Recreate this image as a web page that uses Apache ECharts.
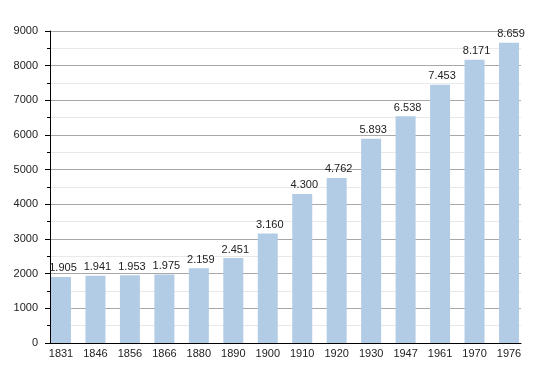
<!DOCTYPE html>
<html><head><meta charset="utf-8">
<script src="https://cdn.jsdelivr.net/npm/echarts@6/dist/echarts.min.js"></script>
<style>html,body{margin:0;padding:0;background:#fff}#c{width:550px;height:373px}</style>
</head><body><div id="c"></div>
<script>
const years = ['1831','1846','1856','1866','1880','1890','1900','1910','1920','1930','1947','1961','1970','1976'];
const population = [1905,1941,1953,1975,2159,2451,3160,4300,4762,5893,6538,7453,8171,8659];
const yTicks = {min: 0, max: 9000, interval: 1000};

const font = 'Liberation Sans, Arial, sans-serif';
const chart = echarts.init(document.getElementById('c'), null, {renderer: 'canvas'});
chart.setOption({
  animation: false,
  grid: [
    {left: 50, right: 29, top: 31, bottom: 30},
    {left: 61, right: 41, top: 31, bottom: 30}
  ],
  xAxis: [
    {gridIndex: 0, type: 'value', min: 0, max: 1,
     axisLine: {show: true, onZero: false, lineStyle: {color: '#000', width: 1}},
     axisTick: {show: false}, axisLabel: {show: false}, splitLine: {show: false}},
    {gridIndex: 1, type: 'category', data: years, boundaryGap: false,
     axisLine: {show: false}, axisTick: {show: false},
     axisLabel: {color: '#222', fontSize: 11, fontFamily: font, margin: 5, interval: 0}}
  ],
  yAxis: [
    {gridIndex: 0, type: 'value', min: yTicks.min, max: yTicks.max, interval: yTicks.interval,
     axisLine: {show: true, lineStyle: {color: '#000', width: 1}},
     axisTick: {show: true, length: 5, lineStyle: {color: '#000'}},
     minorTick: {show: true, splitNumber: 2, length: 3, lineStyle: {color: '#000'}},
     axisLabel: {color: '#222', fontSize: 11, fontFamily: font, margin: 12, formatter: v => String(v)},
     splitLine: {show: true, lineStyle: {color: '#a8a8a8', width: 1}},
     minorSplitLine: {show: true, lineStyle: {color: '#e8e8e8', width: 1}}},
    {gridIndex: 1, type: 'value', min: yTicks.min, max: yTicks.max, interval: yTicks.interval,
     show: false, splitLine: {show: false}}
  ],
  series: [{
    type: 'bar', xAxisIndex: 1, yAxisIndex: 1, data: population, barWidth: 20, z: 5,
    itemStyle: {color: '#b2cce6'},
    label: {show: true, position: 'top', distance: 3, offset: [2, 0], color: '#222', fontSize: 11, fontFamily: font,
      formatter: p => { const s = String(p.value); return s.length > 3 ? s.slice(0, s.length - 3) + '.' + s.slice(-3) : s; }}
  }]
});
</script></body></html>
